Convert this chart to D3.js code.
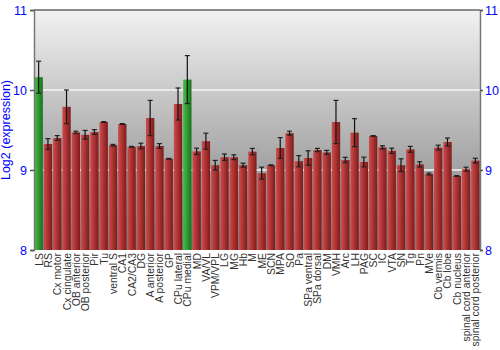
<!DOCTYPE html>
<html>
<head>
<meta charset="utf-8">
<script src="https://cdn.jsdelivr.net/npm/d3@7"></script>
<style>
  body { margin: 0; background: #fff; }
  svg text { font-family: "Liberation Sans", Arial, sans-serif; }
</style>
</head>
<body>
<div id="chart"></div>
<script>
const regions = ["LS", "RS", "Cx motor", "Cx cingulate", "OB anterior", "OB posterior", "Pir", "Tu",
  "ventral S", "CA1", "CA2/CA3", "DG", "A anterior", "A posterior", "GP", "CPu lateral", "CPu medial",
  "MD", "VA/VL", "VPM/VPL", "LG", "MG", "Hb", "M", "ME", "SCN", "MPA", "SO", "Pa", "SPa ventral",
  "SPa dorsal", "DM", "VMH", "Arc", "LH", "PAG", "SC", "IC", "VTA", "SN", "Tg", "Pn", "MVe",
  "Cb vermis", "Cb lobe", "Cb nucleus", "spinal cord anterior", "spinal cord posterior"];

const expression = [10.16, 9.325, 9.40, 9.79, 9.47, 9.44, 9.475, 9.60,
  9.31, 9.575, 9.29, 9.30, 9.65, 9.30, 9.14, 9.825, 10.13,
  9.233, 9.36, 9.06, 9.16, 9.16, 9.06, 9.23, 8.96, 9.06, 9.275, 9.46, 9.11, 9.15,
  9.25, 9.22, 9.60, 9.125, 9.467, 9.10, 9.425, 9.283, 9.24, 9.06, 9.258, 9.07, 8.95,
  9.28, 9.35, 8.925, 9.01, 9.117];

const errors = [0.2, 0.067, 0.03, 0.21, 0.015, 0.055, 0.03, 0.005,
  0.01, 0.005, 0.005, 0.035, 0.22, 0.03, 0.005, 0.2, 0.3,
  0.04, 0.1, 0.06, 0.04, 0.03, 0.025, 0.04, 0.075, 0.005, 0.13, 0.025, 0.07, 0.09,
  0.02, 0.025, 0.27, 0.033, 0.175, 0.06, 0.005, 0.02, 0.033, 0.08, 0.037, 0.033, 0.012,
  0.03, 0.05, 0.005, 0.025, 0.03];

const highlighted = ["LS", "CPu medial"];
const yTicks = [8, 9, 10, 11];

let margin = { top: 10, right: 20, bottom: 100, left: 34 };
let width = 500 - margin.left - margin.right;
let height = 350 - margin.top - margin.bottom;

let dataset = regions.map((r, i) => ({ name: r, value: expression[i], err: errors[i] }));

let x = d3.scaleBand().domain(regions).range([0, width]).paddingInner(0.1).paddingOuter(0.05);
let y = d3.scaleLinear().domain([8, 11]).range([height, 0]);

let svg = d3.select("#chart")
  .append("svg")
  .attr("width", 500)
  .attr("height", 350)
  .append("g")
  .attr("transform", "translate(" + margin.left + "," + margin.top + ")");

let defs = svg.append("defs");
let bg = defs.append("linearGradient").attr("id", "bg").attr("x1", 0).attr("y1", 0).attr("x2", 0).attr("y2", 1);
bg.append("stop").attr("offset", "0%").attr("stop-color", "#f2f2f2");
bg.append("stop").attr("offset", "100%").attr("stop-color", "#7a7a7a");

function barGradient(id, light, mid, dark) {
  let g = defs.append("linearGradient").attr("id", id).attr("x1", 0).attr("y1", 0).attr("x2", 1).attr("y2", 0);
  g.append("stop").attr("offset", "0%").attr("stop-color", light);
  g.append("stop").attr("offset", "35%").attr("stop-color", mid);
  g.append("stop").attr("offset", "100%").attr("stop-color", dark);
}
barGradient("red", "#c85050", "#b83838", "#7a1c1c");
barGradient("green", "#4cb84c", "#34a834", "#1c6e1c");

svg.append("rect")
  .attr("width", width)
  .attr("height", height)
  .style("fill", "url(#bg)");

// grid lines
svg.selectAll(".grid")
  .data([9, 10])
  .enter()
  .append("line")
  .attr("x1", 0)
  .attr("x2", width)
  .attr("y1", d => y(d))
  .attr("y2", d => y(d))
  .style("stroke", "#f4f4f4")
  .style("stroke-width", 1.5);

svg.selectAll(".bar")
  .data(dataset)
  .enter()
  .append("rect")
  .attr("class", "bar")
  .attr("x", d => x(d.name))
  .attr("y", d => y(d.value))
  .attr("width", x.bandwidth())
  .attr("height", d => height - y(d.value))
  .style("fill", d => highlighted.includes(d.name) ? "url(#green)" : "url(#red)");

// error bars
let eb = svg.selectAll(".err")
  .data(dataset)
  .enter()
  .append("g")
  .attr("class", "err")
  .attr("transform", d => "translate(" + (x(d.name) + x.bandwidth() / 2) + ",0)");
eb.append("line")
  .attr("y1", d => y(d.value + d.err))
  .attr("y2", d => y(d.value - d.err))
  .style("stroke", "#111")
  .style("stroke-width", 1.2);
eb.append("line")
  .attr("x1", -2.5).attr("x2", 2.5)
  .attr("y1", d => y(d.value + d.err))
  .attr("y2", d => y(d.value + d.err))
  .style("stroke", "#222")
  .style("stroke-width", 1.2);
eb.append("line")
  .attr("x1", -2.5).attr("x2", 2.5)
  .attr("y1", d => y(d.value - d.err))
  .attr("y2", d => y(d.value - d.err))
  .style("stroke", "#222")
  .style("stroke-width", 1.2);

// frame top
svg.append("line")
  .attr("x1", 0).attr("x2", width)
  .attr("y1", 0).attr("y2", 0)
  .style("stroke", "#666")
  .style("stroke-width", 1.5);

let yAxisL = d3.axisLeft(y).tickValues(yTicks).tickFormat(d3.format("d")).tickSize(4).tickPadding(3);
let yAxisR = d3.axisRight(y).tickValues(yTicks).tickFormat(d3.format("d")).tickSize(3).tickPadding(2);

function styleAxis(g) {
  g.select(".domain").style("stroke", "#777").style("stroke-width", 1.5);
  g.selectAll(".tick line").style("stroke", "#555").style("stroke-width", 1.5);
  g.selectAll(".tick text").style("fill", "#0000ff").style("font-size", "12.5px").style("font-family", "Liberation Sans, Arial, sans-serif");
}

svg.append("g").attr("id", "y-axis").call(yAxisL).call(styleAxis);
svg.append("g").attr("id", "y-axis-right").attr("transform", "translate(" + width + ",0)").call(yAxisR).call(styleAxis);

svg.append("text")
  .attr("transform", "rotate(-90)")
  .attr("x", -height / 2)
  .attr("y", -24)
  .style("text-anchor", "middle")
  .style("fill", "#0000ff")
  .style("font-size", "12.5px")
  .text("Log2 (expression)");

// category labels
svg.selectAll(".xlabel")
  .data(regions)
  .enter()
  .append("text")
  .attr("class", "xlabel")
  .attr("transform", d => "translate(" + (x(d) + x.bandwidth() / 2 + 4) + "," + (height + 3) + ") rotate(-90)")
  .style("text-anchor", "end")
  .style("fill", "#333")
  .style("font-size", "10.4px")
  .text(d => d);
</script>
</body>
</html>
